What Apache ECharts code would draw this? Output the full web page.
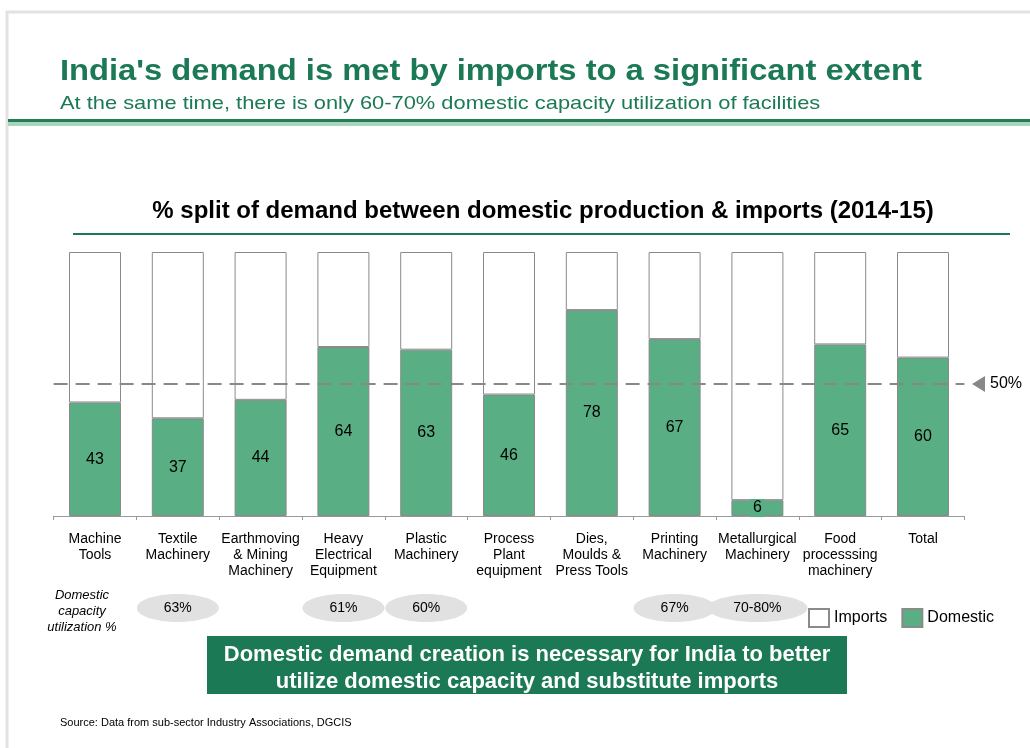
<!DOCTYPE html>
<html><head><meta charset="utf-8">
<script src="https://cdn.jsdelivr.net/npm/echarts@6/dist/echarts.min.js"></script>
<style>html,body{margin:0;padding:0;background:#fff;}#c{width:1030px;height:748px;}</style>
</head><body><div id="c"></div>
<script>
const categories = ['Machine\nTools','Textile\nMachinery','Earthmoving\n& Mining\nMachinery','Heavy\nElectrical\nEquipment','Plastic\nMachinery','Process\nPlant\nequipment','Dies,\nMoulds &\nPress Tools','Printing\nMachinery','Metallurgical\nMachinery','Food\nprocesssing\nmachinery','Total'];
const domestic = [43, 37, 44, 64, 63, 46, 78, 67, 6, 65, 60];
const imports = domestic.map(v => 100 - v);
const utilization = ['', '63%', '', '61%', '60%', '', '', '67%', '70-80%', '', ''];
const refLine = 50;

const GREEN = '#1b7a55';
const BAR_GREEN = '#5aae83';
const FONT = "'Liberation Sans', Arial, sans-serif";

const chart = echarts.init(document.getElementById('c'));
const option = {
  animation: false,
  textStyle: {fontFamily: FONT},
  grid: {left: 53.6, right: 65.6, top: 252, bottom: 232},
  xAxis: {
    type: 'category', data: categories,
    axisLine: {lineStyle: {color: '#999'}},
    axisTick: {show: true, length: 4, lineStyle: {color: '#999'}},
    axisLabel: {interval: 0, color: '#000', fontSize: 14, lineHeight: 16, margin: 15, fontFamily: FONT}
  },
  yAxis: {type: 'value', min: 0, max: 100, show: false, splitLine: {show: false}},
  legend: {
    data: ['Imports', 'Domestic'], left: 808, top: 608, icon: 'rect', padding: 0,
    itemWidth: 20, itemHeight: 18, itemGap: 14,
    textStyle: {fontSize: 16, color: '#000', fontFamily: FONT}
  },
  series: [
    {
      name: 'Domestic', type: 'bar', stack: 'a', data: domestic, barWidth: 52,
      itemStyle: {color: BAR_GREEN, borderColor: '#8a8a8a', borderWidth: 1},
      label: {show: true, position: 'inside', color: '#000', fontSize: 16, fontFamily: FONT,
              backgroundColor: BAR_GREEN, padding: [1, 3]},
      markLine: {
        silent: true, symbol: 'none',
        lineStyle: {color: '#888', width: 2, type: [14, 8]},
        label: {show: false},
        data: [{yAxis: refLine}]
      }
    },
    {
      name: 'Imports', type: 'bar', stack: 'a', data: imports, barWidth: 52,
      itemStyle: {color: '#fff', borderColor: '#8a8a8a', borderWidth: 1}
    }
  ]
};
chart.setOption(option);

const g = [];
// page frame
g.push({type: 'polyline', shape: {points: [[7, 748], [7, 12], [1030, 12]]}, style: {stroke: '#e2e2e2', lineWidth: 3, fill: null}});
// header
g.push({type: 'text', x: 60, y: 72, scaleX: 1.09, originX: 0, originY: 0, style: {text: "India's demand is met by imports to a significant extent", fill: GREEN, font: "bold 30px " + FONT, verticalAlign: 'middle'}});
g.push({type: 'text', x: 60, y: 104, scaleX: 1.15, originX: 0, originY: 0, style: {text: 'At the same time, there is only 60-70% domestic capacity utilization of facilities', fill: GREEN, font: "19px " + FONT, verticalAlign: 'middle'}});
g.push({type: 'rect', shape: {x: 8, y: 119, width: 1022, height: 3}, style: {fill: '#267c57'}});
g.push({type: 'rect', shape: {x: 8, y: 122, width: 1022, height: 4}, style: {fill: '#a9d4bd'}});
// chart title
g.push({type: 'text', x: 543, y: 211, style: {text: '% split of demand between domestic production & imports (2014-15)', fill: '#000', font: "bold 24px " + FONT, align: 'center', verticalAlign: 'middle'}});
g.push({type: 'rect', shape: {x: 73, y: 233, width: 937, height: 2}, style: {fill: GREEN}});
// 50% marker
const y50 = chart.convertToPixel({yAxisIndex: 0}, refLine);
g.push({type: 'polygon', shape: {points: [[972, y50], [985, y50 - 8], [985, y50 + 8]]}, style: {fill: '#888'}});
g.push({type: 'text', x: 990, y: y50, style: {text: refLine + '%', fill: '#000', font: "16px " + FONT, verticalAlign: 'middle'}});
// utilization row
g.push({type: 'text', x: 82, y: 611, style: {text: 'Domestic\ncapacity\nutilization %', fill: '#000', font: "italic 13px " + FONT, align: 'center', verticalAlign: 'middle', lineHeight: 16}});
utilization.forEach((u, i) => {
  if (!u) return;
  const cx = chart.convertToPixel({xAxisIndex: 0}, i);
  const rx = u.length > 3 ? 50 : 41;
  g.push({type: 'ellipse', shape: {cx: cx, cy: 608, rx: rx, ry: 14}, style: {fill: '#e1e1e1'}});
  g.push({type: 'text', x: cx, y: 608, style: {text: u, fill: '#000', font: "14px " + FONT, align: 'center', verticalAlign: 'middle'}});
});
// conclusion box
g.push({type: 'rect', shape: {x: 207, y: 636, width: 640, height: 58}, style: {fill: GREEN}});
g.push({type: 'text', x: 527, y: 668, style: {text: 'Domestic demand creation is necessary for India to better\nutilize domestic capacity and substitute imports', fill: '#fff', font: "bold 22px " + FONT, align: 'center', verticalAlign: 'middle', lineHeight: 27}});
// source
g.push({type: 'text', left: 60, top: 717, style: {text: 'Source: Data from sub-sector Industry Associations, DGCIS', fill: '#000', font: "11px " + FONT}});
chart.setOption({graphic: g});
</script></body></html>
